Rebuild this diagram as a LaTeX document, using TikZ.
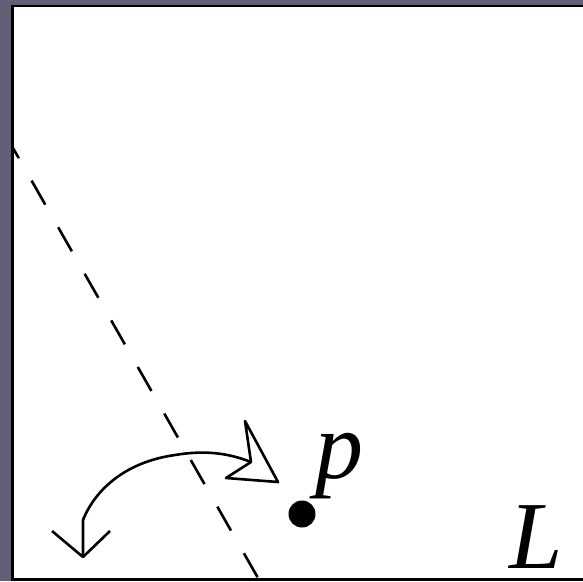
\documentclass[tikz,border=0pt]{standalone}
\usepackage{fontspec}
\setmainfont{Liberation Serif}
\definecolor{framegray}{RGB}{98,96,118}
\begin{document}
\begin{tikzpicture}[x=1pt,y=-1pt,
  stroke/.style={line width=2.6pt, line join=round},
  lbl/.style={inner sep=0pt, anchor=base, text depth=0pt, font=\fontsize{96}{96}\selectfont\itshape}]
\useasboundingbox (0,0) rectangle (583,581);
\fill[framegray] (0,0) rectangle (583,581);
\begin{scope}
\clip (0,0) rectangle (583,581);
\draw[line width=2.6pt, fill=white] (12.5,5.8) rectangle (600,579.5);
\end{scope}
% dashed line
\coordinate (dtop) at (13,148);
\coordinate (dbot) at (258,578);
\draw[stroke, dash pattern=on 27.6pt off 26pt, dash phase=16pt] (dtop) -- (dbot);
% point p
\node[circle, fill=black, inner sep=0pt, minimum size=27pt] (pt) at (302,514) {};
\node[lbl] (p) at (339,478) {p};
\node[lbl] (L) at (536,568) {L};
% curved arrow
\coordinate (vtip) at (83,557);
\coordinate (notch) at (251,462);
\draw[stroke] (vtip) -- (83,520) .. controls (95,490) and (125,462) .. (175,455) .. controls (205,450) and (228,453) .. (notch);
\draw[stroke] (52,531) -- (vtip) -- (110,531);
\draw[stroke, fill=white] (notch) -- (245,421) -- (278,482) -- (226,478) -- cycle;
\end{tikzpicture}
\end{document}
